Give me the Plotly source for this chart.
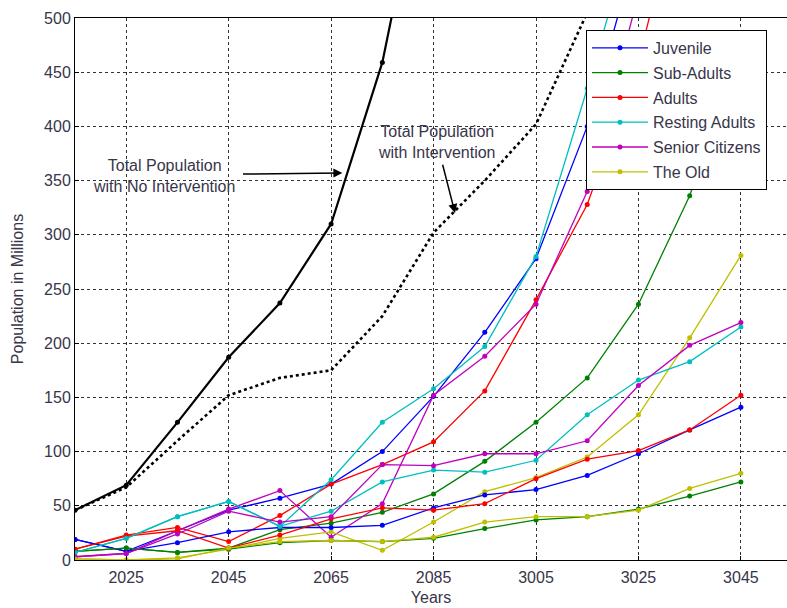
import plotly.graph_objects as go

# x positions: one point every 10 years (index 0..13); only every second is labelled
steps = list(range(14))
tick_pos = [1, 3, 5, 7, 9, 11, 13]
tick_labels = ["2025", "2045", "2065", "2085", "3005", "3025", "3045"]
y_ticks = [0, 50, 100, 150, 200, 250, 300, 350, 400, 450, 500]

total_no_intervention = [46, 69, 127, 187, 237, 310, 459, 690]
total_with_intervention = [46, 67, 110, 152, 168, 175, 225, 302, 350, 402, 505, 650]

juvenile_a = [19, 8, 27, 46, 57, 70, 100, 151, 210, 278, 400, 570]
juvenile_b = [19, 8, 16, 26, 30, 30, 32, 48, 60, 65, 78, 98, 120, 141]
subadults_a = [8, 11, 7, 11, 28, 34, 44, 61, 91, 127, 168, 236, 336, 475]
subadults_b = [8, 11, 7, 10, 16, 18, 17, 20, 29, 37, 40, 47, 59, 72]
adults_a = [10, 23, 30, 17, 41, 70, 88, 109, 156, 240, 328, 460, 650]
adults_b = [10, 22, 27, 11, 23, 38, 48, 46, 52, 75, 93, 101, 120, 152]
resting_a = [7, 20, 40, 54, 31, 74, 127, 158, 197, 280, 435, 600]
resting_b = [7, 20, 40, 54, 31, 45, 72, 83, 81, 92, 134, 166, 183, 215]
senior_a = [3, 6, 27, 47, 64, 21, 52, 152, 188, 236, 340, 522]
senior_b = [3, 6, 24, 45, 35, 40, 88, 87, 98, 98, 110, 161, 198, 219]
old_a = [1, 0, 2, 10, 20, 26, 9, 35, 63, 76, 95, 134, 205, 281]
old_b = [1, 0, 1, 11, 17, 18, 17, 21, 35, 40, 40, 46, 66, 80]

names = ["Juvenile", "Sub-Adults", "Adults", "Resting Adults", "Senior Citizens", "The Old"]
colors = ["#0000ff", "#008000", "#ff0000", "#00bfbf", "#bf00bf", "#bfbf00"]
series_a = [juvenile_a, subadults_a, adults_a, resting_a, senior_a, old_a]
series_b = [juvenile_b, subadults_b, adults_b, resting_b, senior_b, old_b]

TXT = "#38354a"
FONT = "Liberation Sans, Arial, sans-serif"

fig = go.Figure()

fig.add_trace(go.Scatter(x=steps[:len(total_no_intervention)], y=total_no_intervention,
                         mode="lines+markers", line=dict(color="black", width=2.2),
                         marker=dict(size=5, color="black"), showlegend=False))
fig.add_trace(go.Scatter(x=steps[:len(total_with_intervention)], y=total_with_intervention,
                         mode="lines", line=dict(color="black", width=2.6, dash="dot"),
                         showlegend=False))

for nm, c, a in zip(names, colors, series_a):
    fig.add_trace(go.Scatter(x=steps[:len(a)], y=a, mode="lines+markers", name=nm,
                             legendgroup=nm, line=dict(color=c, width=1.3),
                             marker=dict(size=5, color=c)))
for nm, c, b in zip(names, colors, series_b):
    fig.add_trace(go.Scatter(x=steps[:len(b)], y=b, mode="lines+markers", name=nm,
                             legendgroup=nm, showlegend=False, line=dict(color=c, width=1.3),
                             marker=dict(size=5, color=c)))

fig.add_annotation(x=1.73, y=354, xref="x", yref="y", showarrow=False,
                   text="Total Population<br>with No Intervention",
                   font=dict(size=16, color=TXT, family=FONT))
fig.add_annotation(x=5.22, y=357, ax=3.25, ay=356, xref="x", yref="y", axref="x", ayref="y",
                   text="", showarrow=True, arrowhead=2, arrowsize=1.2, arrowwidth=1.5,
                   arrowcolor="black")
fig.add_annotation(x=7.07, y=386, xref="x", yref="y", showarrow=False,
                   text="Total Population<br>with Intervention",
                   font=dict(size=16, color=TXT, family=FONT))
fig.add_annotation(x=7.42, y=320, ax=7.17, ay=366, xref="x", yref="y", axref="x", ayref="y",
                   text="", showarrow=True, arrowhead=2, arrowsize=1.2, arrowwidth=1.5,
                   arrowcolor="black")

fig.update_layout(
    width=787, height=608,
    margin=dict(l=75, r=0, t=18, b=48),
    paper_bgcolor="white", plot_bgcolor="white",
    font=dict(family=FONT, size=16, color=TXT),
    legend=dict(x=0.7177, y=0.978, xanchor="left", yanchor="top",
                bgcolor="white", bordercolor="black", borderwidth=1,
                font=dict(size=16, color=TXT, family=FONT),
                itemwidth=56, tracegroupgap=1),
)
fig.update_xaxes(range=[0, 13.9], tickmode="array", tickvals=tick_pos, ticktext=tick_labels,
                 automargin=False,
                 showgrid=True, gridcolor="#333333", griddash="3px,3px", gridwidth=1.1,
                 showline=True, linecolor="black", linewidth=1, mirror=True,
                 ticks="inside", ticklen=4, tickcolor="black", zeroline=False,
                 ticklabelstandoff=3,
                 title=dict(text="Years", standoff=6, font=dict(size=16, color=TXT)),
                 tickfont=dict(size=16, color=TXT))
fig.update_yaxes(range=[0, 500], tickmode="array", tickvals=y_ticks,
                 automargin=False,
                 showgrid=True, gridcolor="#333333", griddash="3px,3px", gridwidth=1.1,
                 showline=True, linecolor="black", linewidth=1, mirror=False,
                 ticks="inside", ticklen=4, tickcolor="black", zeroline=False,
                 title=dict(text="Population in Millions", standoff=16, font=dict(size=16, color=TXT)),
                 tickfont=dict(size=16, color=TXT))

fig.write_html("out.html", config={"displayModeBar": False},
               post_script="document.body.style.margin='0';document.body.style.overflow='hidden';")
